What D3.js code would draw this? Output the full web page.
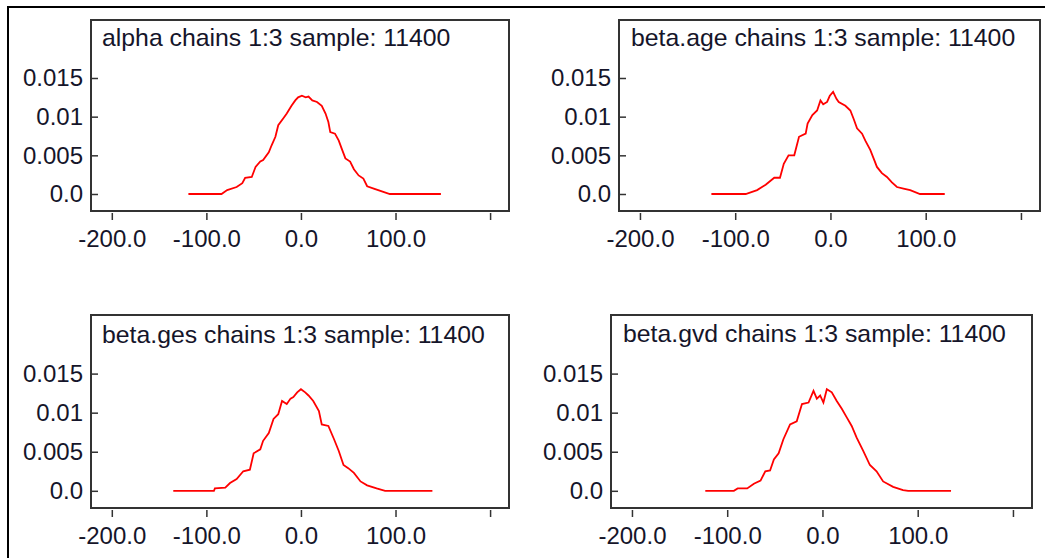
<!DOCTYPE html>
<html><head><meta charset="utf-8">
<script src="https://cdn.jsdelivr.net/npm/d3@7"></script>
<style>
html,body{margin:0;padding:0;background:#fff;}
svg{display:block;}
text{font-family:"Liberation Sans",Arial,sans-serif;fill:#15152a;}
</style></head>
<body>
<svg id="c" width="1045" height="558"></svg>
<script>
// ---------- data ----------
const titles = ["alpha chains 1:3 sample: 11400","beta.age chains 1:3 sample: 11400","beta.ges chains 1:3 sample: 11400","beta.gvd chains 1:3 sample: 11400"];
const xTickValues = [-200,-100,0,100,200];
const xTickLabels = ["-200.0","-100.0","0.0","100.0",""];
const yTickValues = [0,0.005,0.01,0.015];
const yTickLabels = ["0.0","0.005","0.01","0.015"];

const alphaX = [-119,-84,-78,-68,-62,-59,-52,-48,-43,-40,-34,-31,-27,-24,-18,-15,-10,-6,-3,1,5,8,12,17,22,26,29,31,36,40,43,47,52,56,61,66,70,77,84,94,148];
const alphaY = [0,0,0.0005,0.0009,0.0014,0.0021,0.0022,0.0035,0.0042,0.0044,0.0054,0.0063,0.0074,0.0089,0.0099,0.0104,0.0114,0.0121,0.0125,0.0127,0.0125,0.0126,0.0121,0.0119,0.0114,0.0104,0.0093,0.0080,0.0078,0.0069,0.0059,0.0046,0.0042,0.0032,0.0024,0.0020,0.0010,0.0007,0.0004,0,0];

const ageX = [-125,-89,-77,-68,-59,-53,-49,-44,-38,-33,-26,-24,-19,-14,-10.5,-7.6,-3.5,-0.7,2.8,6.3,8.7,15.7,20.9,24.4,27.9,33.2,36.6,41.8,45.3,48.8,54,59.3,64.5,69.8,76.7,83.7,94,120];
const ageY = [0,0,0.0005,0.0012,0.0021,0.0021,0.0039,0.005,0.005,0.0074,0.0078,0.0091,0.0102,0.0108,0.0121,0.0116,0.0119,0.0127,0.0132,0.0123,0.0119,0.0114,0.0108,0.0097,0.0085,0.0078,0.0069,0.0057,0.0046,0.0035,0.0027,0.0022,0.0015,0.0009,0.0007,0.0005,0,0];

const gesX = [-135,-92,-91,-80,-75,-68,-61,-54,-50,-43,-40,-34,-29,-24,-20,-15,-11,-8,-4,0,4.5,8,13,19,22,29,35,40,45,50,56,63,70,80,89,139];
const gesY = [0,0,0.0003,0.0004,0.0010,0.0015,0.0025,0.0027,0.0048,0.0053,0.0064,0.0074,0.0092,0.0098,0.0115,0.0111,0.0118,0.0120,0.0126,0.0130,0.0126,0.0122,0.0115,0.0102,0.0085,0.0083,0.0066,0.0051,0.0033,0.0029,0.0023,0.0012,0.0007,0.0003,0,0];

const gvdX = [-123,-93,-89,-79,-72,-65,-60,-55,-51,-46,-41,-34,-27,-21.5,-14.6,-9.4,-5.9,-2.4,1,4.6,9.8,15,20.3,25.5,30.7,35.9,42.8,49.8,56.8,63.7,74.2,84.6,90,135];
const gvdY = [0,0,0.0003,0.0003,0.0009,0.0013,0.0025,0.0026,0.0040,0.0048,0.0066,0.0085,0.0089,0.0111,0.0113,0.0128,0.0118,0.0122,0.0113,0.0130,0.0126,0.0115,0.0105,0.0094,0.0083,0.0068,0.0051,0.0033,0.0025,0.0012,0.0005,0.0001,0,0];

const seriesX = [alphaX, ageX, gesX, gvdX];
const seriesY = [alphaY, ageY, gesY, gvdY];

// ---------- layout ----------
const panels = [
  {l:91, r:509, t:20, b:211, tx:11, ty:26},
  {l:619, r:1040, t:20, b:211, tx:12, ty:26},
  {l:91, r:509, t:315, b:508, tx:11, ty:28},
  {l:611, r:1032, t:315, b:508, tx:12, ty:27}
];
const xDomain = [-222, 220];
const yDomain = [-0.0022, 0.0225];

const svg = d3.select("#c");
// outer frame
svg.append("line").attr("x1",8).attr("x2",8).attr("y1",6).attr("y2",558).attr("stroke","#000").attr("stroke-width",2);
svg.append("line").attr("x1",7).attr("x2",1045).attr("y1",7).attr("y2",7).attr("stroke","#000").attr("stroke-width",2);

panels.forEach((p,i)=>{
  const x = d3.scaleLinear().domain(xDomain).range([p.l,p.r]);
  const y = d3.scaleLinear().domain(yDomain).range([p.b,p.t]);
  const g = svg.append("g");

  // y axis (ticks inward)
  const ya = g.append("g").attr("transform",`translate(${p.l},0)`)
    .call(d3.axisLeft(y).tickValues(yTickValues).tickFormat((d,k)=>yTickLabels[k]).tickSize(-7).tickPadding(8));
  ya.select(".domain").remove();
  ya.selectAll("line").attr("stroke","#333").attr("stroke-width",1.5);
  ya.selectAll("text").attr("font-size","24px").attr("fill","#15152a").attr("font-family",null);

  // x axis (ticks outward, below frame)
  const xa = g.append("g").attr("transform",`translate(0,${p.b+2})`)
    .call(d3.axisBottom(x).tickValues(xTickValues).tickFormat((d,k)=>xTickLabels[k]).tickSize(7).tickPadding(10));
  xa.select(".domain").remove();
  xa.selectAll("line").attr("stroke","#333").attr("stroke-width",1.5);
  xa.selectAll("text").attr("font-size","24px").attr("fill","#15152a").attr("font-family",null);

  // frame
  g.append("rect").attr("x",p.l).attr("y",p.t).attr("width",p.r-p.l).attr("height",p.b-p.t)
    .attr("fill","none").attr("stroke","#333").attr("stroke-width",2);

  // title
  g.append("text").attr("x",p.l+p.tx).attr("y",p.t+p.ty).attr("font-size","24.8px").text(titles[i]);

  // curve
  const pts = seriesX[i].map((v,k)=>[v, seriesY[i][k]]);
  g.append("path").datum(pts)
    .attr("d", d3.line().x(d=>x(d[0])).y(d=>y(d[1])))
    .attr("fill","none").attr("stroke","#ff0000").attr("stroke-width",1.8);
});
</script>
</body></html>
